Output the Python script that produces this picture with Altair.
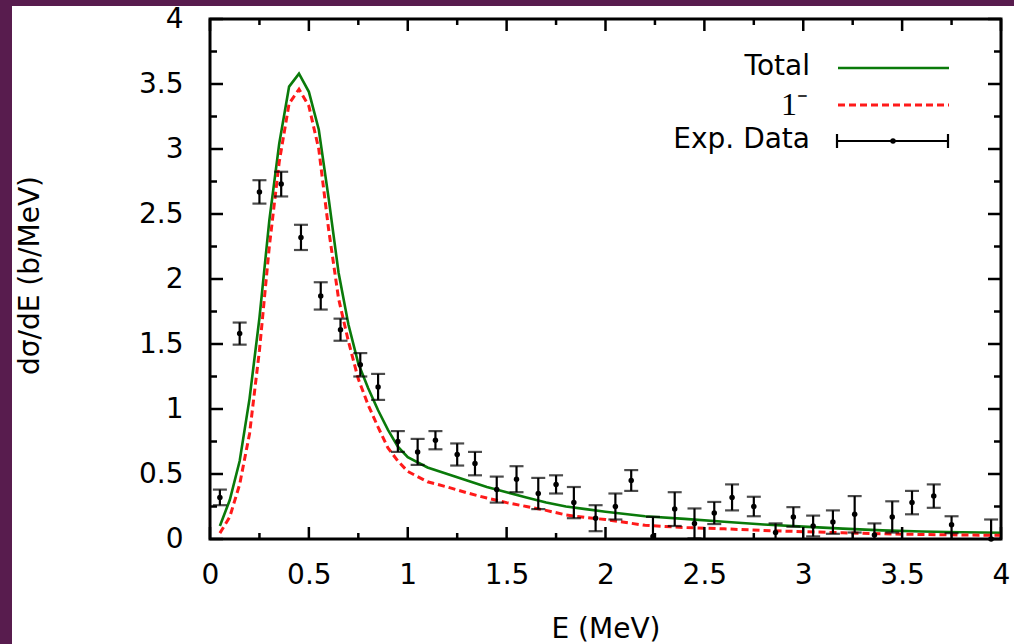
import altair as alt
import pandas as pd

# ---------------- data ----------------
E_exp = [0.05, 0.15, 0.25, 0.36, 0.46, 0.56, 0.66, 0.76, 0.85, 0.95,
         1.05, 1.14, 1.25, 1.34, 1.45, 1.55, 1.66, 1.75, 1.84, 1.95,
         2.05, 2.13, 2.24, 2.35, 2.45, 2.55, 2.64, 2.75, 2.86, 2.95,
         3.05, 3.15, 3.26, 3.36, 3.45, 3.55, 3.66, 3.75, 3.95]
v_exp = [0.32, 1.58, 2.67, 2.73, 2.32, 1.87, 1.61, 1.34, 1.17, 0.75,
         0.67, 0.76, 0.65, 0.58, 0.38, 0.46, 0.35, 0.42, 0.28, 0.16,
         0.25, 0.45, 0.02, 0.23, 0.12, 0.20, 0.32, 0.25, 0.05, 0.17,
         0.10, 0.13, 0.19, 0.03, 0.17, 0.28, 0.33, 0.11, 0.00]
err_exp = [0.06, 0.085, 0.09, 0.095, 0.097, 0.105, 0.085, 0.09, 0.10, 0.08,
           0.10, 0.07, 0.085, 0.09, 0.10, 0.10, 0.12, 0.07, 0.12, 0.10,
           0.10, 0.08, 0.15, 0.13, 0.115, 0.085, 0.10, 0.075, 0.07, 0.075,
           0.08, 0.09, 0.14, 0.09, 0.12, 0.09, 0.09, 0.065, 0.15]

E_th = [0.05, 0.10, 0.15, 0.20, 0.25, 0.30, 0.35, 0.40, 0.45, 0.50,
        0.55, 0.60, 0.65, 0.70, 0.75, 0.80, 0.85, 0.90, 0.95, 1.0,
        1.1, 1.2, 1.3, 1.4, 1.5, 1.6, 1.7, 1.8, 1.9, 2.0,
        2.2, 2.4, 2.6, 2.8, 3.0, 3.2, 3.4, 3.6, 3.8, 4.0]
total = [0.10, 0.30, 0.60, 1.08, 1.70, 2.45, 3.04, 3.48, 3.58, 3.44,
         3.15, 2.62, 2.05, 1.65, 1.35, 1.16, 0.99, 0.84, 0.71, 0.63,
         0.55, 0.50, 0.45, 0.40, 0.36, 0.32, 0.28, 0.25, 0.23, 0.21,
         0.175, 0.155, 0.133, 0.112, 0.095, 0.08, 0.066, 0.058, 0.052, 0.048]
one_minus = [0.045, 0.17, 0.42, 0.81, 1.45, 2.25, 2.90, 3.35, 3.46, 3.33,
             3.00, 2.38, 1.85, 1.52, 1.23, 1.03, 0.86, 0.70, 0.60, 0.52,
             0.44, 0.40, 0.355, 0.315, 0.28, 0.25, 0.22, 0.185, 0.165, 0.15,
             0.105, 0.088, 0.078, 0.066, 0.056, 0.048, 0.040, 0.035, 0.031, 0.028]

x_major = [0, 0.5, 1, 1.5, 2, 2.5, 3, 3.5, 4]
x_minor = [0.25, 0.75, 1.25, 1.75, 2.25, 2.75, 3.25, 3.75]
y_major = [0, 0.5, 1, 1.5, 2, 2.5, 3, 3.5, 4]
y_minor = [0.25, 0.75, 1.25, 1.75, 2.25, 2.75, 3.25, 3.75]

legend_labels = ["Total", "1\u207b", "Exp.  Data"]

# ---------------- layout ----------------
W, H = 791, 520
FONT = "DejaVu Sans"
FS = 28
GREEN = "#0a7a0a"
RED = "#ff1a1a"
PURPLE = "#581c4e"

xs = alt.Scale(domain=[0, 4], nice=False, zero=False)
ys = alt.Scale(domain=[0, 4], nice=False, zero=False)

exp_df = pd.DataFrame({
    "E": E_exp,
    "v": v_exp,
    "lo": [a - b for a, b in zip(v_exp, err_exp)],
    "hi": [a + b for a, b in zip(v_exp, err_exp)],
})
th_df = pd.DataFrame({"E": E_th, "total": total, "one": one_minus})
one_row = pd.DataFrame({"k": [0]})

x_axis = alt.Axis(values=x_major, labelExpr="datum.value", ticks=False, domain=False,
                  grid=False, labelFont=FONT, labelFontSize=FS, labelColor="black",
                  labelPadding=22, labelFlush=False, title="E (MeV)", titleFont=FONT,
                  titleFontSize=FS, titleFontWeight="normal", titleColor="black",
                  titleY=90, titleBaseline="middle", zindex=1)
y_axis = alt.Axis(values=y_major, labelExpr="datum.value", ticks=False, domain=False,
                  grid=False, labelFont=FONT, labelFontSize=FS, labelColor="black",
                  labelPadding=27, labelFlush=False, title="d\u03c3/dE (b/MeV)",
                  titleFont=FONT, titleFontSize=FS, titleFontWeight="normal",
                  titleColor="black", titleX=-180, titleY=256, titleAngle=-90,
                  titleAlign="center", titleBaseline="middle", zindex=1)


def X(field):
    return alt.X(field, scale=xs, axis=x_axis)


def Y(field):
    return alt.Y(field, scale=ys, axis=y_axis)


# purple frame strips (outside the plot)
strip_left = alt.Chart(one_row).mark_rect(color=PURPLE).encode(
    x=alt.value(-210), x2=alt.value(-198), y=alt.value(-19), y2=alt.value(625))
strip_top = alt.Chart(one_row).mark_rect(color=PURPLE).encode(
    x=alt.value(-210), x2=alt.value(804), y=alt.value(-19), y2=alt.value(-13))

base_th = alt.Chart(th_df)
line_total = base_th.mark_line(color=GREEN, strokeWidth=2.6).encode(
    x=X("E:Q"), y=Y("total:Q"))
line_one = base_th.mark_line(color=RED, strokeWidth=3, strokeDash=[7, 4]).encode(
    x=X("E:Q"), y=Y("one:Q"))

base_exp = alt.Chart(exp_df)
err_rule = base_exp.mark_rule(color="black", strokeWidth=2.2, clip=True).encode(
    x=X("E:Q"), y=Y("lo:Q"), y2="hi:Q")
cap_hi = base_exp.mark_tick(color="black", orient="horizontal", size=14, thickness=2.2,
                            clip=True).encode(x=X("E:Q"), y=Y("hi:Q"))
cap_lo = base_exp.mark_tick(color="black", orient="horizontal", size=14, thickness=2.2,
                            clip=True).encode(x=X("E:Q"), y=Y("lo:Q"))
dots = base_exp.mark_circle(color="black", size=30, opacity=1).encode(
    x=X("E:Q"), y=Y("v:Q"))


# inward ticks on all four sides
def xticks(vals, length, top):
    d = pd.DataFrame({"E": vals})
    y0, y1 = (0, length) if top else (H, H - length)
    return alt.Chart(d).mark_rule(color="black", strokeWidth=2.5).encode(
        x=X("E:Q"), y=alt.value(y0), y2=alt.value(y1))


def yticks(vals, length, right):
    d = pd.DataFrame({"total": vals})
    x0, x1 = (W, W - length) if right else (0, length)
    return alt.Chart(d).mark_rule(color="black", strokeWidth=2.5).encode(
        y=Y("total:Q"), x=alt.value(x0), x2=alt.value(x1))


ticks = [
    xticks(x_major, 12, False), xticks(x_minor, 6, False),
    xticks(x_major, 12, True), xticks(x_minor, 6, True),
    yticks(y_major, 13, False), yticks(y_minor, 7, False),
    yticks(y_major, 13, True), yticks(y_minor, 7, True),
]

# legend (drawn by hand, gnuplot style)
txt_total = alt.Chart(one_row).mark_text(text=legend_labels[0], font=FONT, fontSize=FS,
                                         align="right", baseline="middle",
                                         color="black").encode(
    x=alt.value(600), y=alt.value(48))
txt_one = alt.Chart(one_row).mark_text(text=legend_labels[1], font="Liberation Serif",
                                       fontSize=FS + 4, align="right", baseline="middle",
                                       color="black").encode(
    x=alt.value(598), y=alt.value(86))
txt_exp = alt.Chart(one_row).mark_text(text=legend_labels[2], font=FONT, fontSize=FS,
                                       align="right", baseline="middle",
                                       color="black").encode(
    x=alt.value(600), y=alt.value(121))
leg_green = alt.Chart(one_row).mark_rule(color=GREEN, strokeWidth=2.6).encode(
    x=alt.value(628), x2=alt.value(739), y=alt.value(49))
leg_red = alt.Chart(one_row).mark_rule(color=RED, strokeWidth=3, strokeDash=[7, 4]).encode(
    x=alt.value(628), x2=alt.value(739), y=alt.value(86))
leg_bar = alt.Chart(one_row).mark_rule(color="black", strokeWidth=2.2).encode(
    x=alt.value(627), x2=alt.value(738), y=alt.value(122))
leg_cap1 = alt.Chart(one_row).mark_rule(color="black", strokeWidth=2.2).encode(
    x=alt.value(627), y=alt.value(115), y2=alt.value(129))
leg_cap2 = alt.Chart(one_row).mark_rule(color="black", strokeWidth=2.2).encode(
    x=alt.value(738), y=alt.value(115), y2=alt.value(129))
leg_dot = alt.Chart(one_row).mark_circle(color="black", size=30, opacity=1).encode(
    x=alt.value(683), y=alt.value(122))

chart = alt.layer(
    line_total, line_one, err_rule, cap_hi, cap_lo, dots,
    *ticks,
    txt_total, txt_one, txt_exp, leg_green, leg_red, leg_bar, leg_cap1, leg_cap2, leg_dot,
    strip_left, strip_top,
).properties(
    width=W, height=H,
    padding={"left": 210, "top": 19, "right": 13, "bottom": 105},
    autosize=alt.AutoSizeParams(type="none"),
    background="white",
).configure_view(stroke="black", strokeWidth=3)

chart.save("out.html", embed_options={"renderer": "svg", "actions": False})
